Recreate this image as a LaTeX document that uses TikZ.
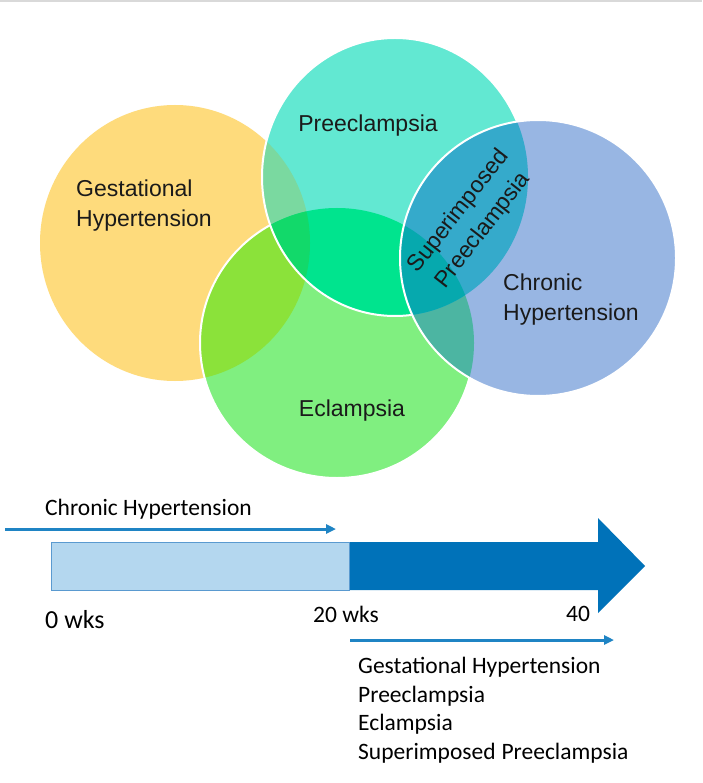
\documentclass[tikz,border=0pt]{standalone}
\usepackage{fontspec}
\setmainfont{Liberation Sans}
\newfontfamily\calf{Carlito}
\usetikzlibrary{arrows.meta}
\definecolor{yc}{HTML}{FEDB7C}
\definecolor{tc}{HTML}{62E8D2}
\definecolor{gc}{HTML}{80EF80}
\definecolor{bc}{HTML}{98B6E3}
\definecolor{ygc}{HTML}{8BE23A}
\definecolor{ytc}{HTML}{7AD9A0}
\definecolor{tgc}{HTML}{00E48E}
\definecolor{ytgc}{HTML}{12D96A}
\definecolor{bgc}{HTML}{4CB5A2}
\definecolor{btc}{HTML}{35AACB}
\definecolor{btgc}{HTML}{06A9AE}
\definecolor{darkbar}{HTML}{0072B9}
\definecolor{lightbar}{HTML}{B4D7EF}
\definecolor{barline}{HTML}{5A9AD0}
\definecolor{thinblue}{HTML}{1F84C4}
\definecolor{txt}{HTML}{1A1A1A}
\def\Yp{(175,243) ellipse [x radius=135pt, y radius=138pt]}
\def\Gp{(337,343) ellipse [x radius=137pt, y radius=135pt]}
\def\Tp{(395,177) ellipse [x radius=133pt, y radius=139pt]}
\def\Bp{(538,258) ellipse [x radius=138pt, y radius=138pt]}
\tikzset{
  rim/.style={draw=white, line width=2pt},
  lbl/.style={font=\fontsize{23}{30}\selectfont, text=txt, inner sep=0pt},
  tl/.style={font=\calf\fontsize{23.5}{29}\selectfont, text=black, inner sep=0pt, anchor=west},
  thinarrow/.style={draw=thinblue, line width=3pt, -{Triangle[length=10pt, width=9pt]}}
}
\begin{document}
\begin{tikzpicture}[x=1pt,y=-1pt]
\useasboundingbox (0,0) rectangle (702,783);
\fill[white] (0,0) rectangle (702,783);
\draw[black!15, line width=1.5pt] (0,1) -- (702,1);
% yellow
\fill[yc] \Yp;
% green
\fill[gc] \Gp;
\begin{scope}\clip \Gp; \fill[ygc] \Yp; \end{scope}
\draw[rim] \Gp;
% teal
\fill[tc] \Tp;
\begin{scope}\clip \Tp; \fill[ytc] \Yp; \fill[tgc] \Gp;
  \clip \Gp; \fill[ytgc] \Yp; \end{scope}
\draw[rim] \Tp;
% blue
\fill[bc] \Bp;
\begin{scope}\clip \Bp; \fill[bgc] \Gp; \fill[btc] \Tp;
  \clip \Tp; \fill[btgc] \Gp; \end{scope}
\draw[rim] \Bp;
% circle labels
\node[lbl] (pre) at (368,126) {Preeclampsia};
\node[lbl, anchor=west, align=left] (gest) at (76,206) {Gestational\\Hypertension};
\node[lbl, anchor=west, align=left] (chron) at (503,300) {Chronic\\Hypertension};
\node[lbl] (ecl) at (352,411) {Eclampsia};
\node[lbl, rotate=52, align=center, font=\fontsize{23}{31}\selectfont] (sup) at (471,221) {Superimposed\\Preeclampsia};
% timeline
\fill[darkbar] (349,542) -- (598,542) -- (598,518) -- (645,566) -- (598,613) -- (598,590) -- (349,590) -- cycle;
\draw[fill=lightbar, draw=barline, line width=1pt] (51,542) rectangle (349,590);
\coordinate (a1s) at (5,529);
\coordinate (a1e) at (336,529);
\coordinate (a2s) at (350,640);
\coordinate (a2e) at (614,640);
\draw[thinarrow] (a1s) -- (a1e);
\draw[thinarrow] (a2s) -- (a2e);
\node[tl] (chl) at (45,509) {Chronic Hypertension};
\node[tl, font=\calf\fontsize{26}{29}\selectfont] (w0) at (45,620) {0 wks};
\node[tl] (w20) at (313,614) {20 wks};
\node[tl] (w40) at (566,614) {40};
\node[tl] (l1) at (358,667) {Gestational Hypertension};
\node[tl] (l2) at (358,696) {Preeclampsia};
\node[tl] (l3) at (358,724) {Eclampsia};
\node[tl] (l4) at (358,753) {Superimposed\hspace{0.25em}Preeclampsia};
\end{tikzpicture}
\end{document}
